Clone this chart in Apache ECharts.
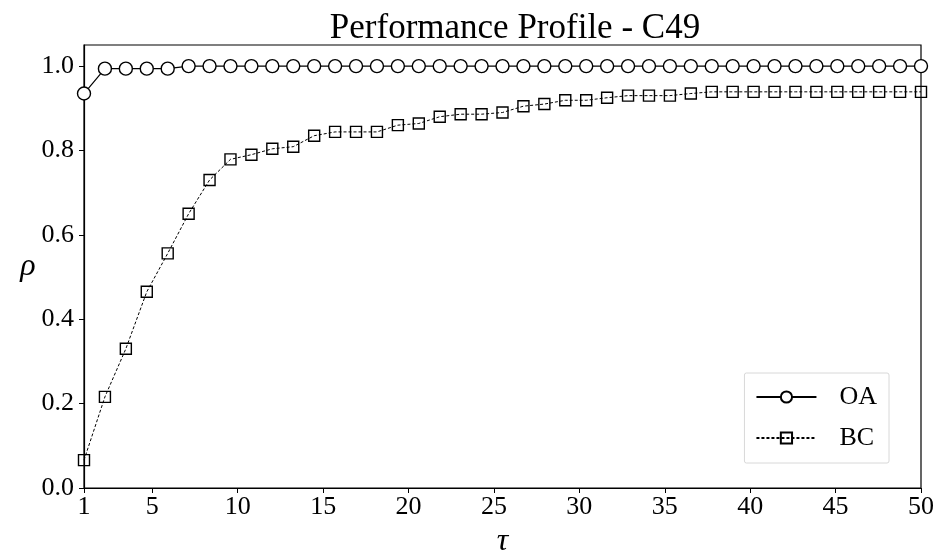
<!DOCTYPE html>
<html>
<head>
<meta charset="utf-8">
<script src="https://cdn.jsdelivr.net/npm/echarts@6/dist/echarts.min.js"></script>
<style>
  html, body { margin: 0; padding: 0; background: #fff; }
  #chart { width: 938px; height: 552px; }
</style>
</head>
<body>
<div id="chart"></div>
<script>
// Performance profile data: fraction of problems solved within factor tau
const tau = [1, 2.225, 3.45, 4.675, 5.9, 7.125, 8.35, 9.575, 10.8, 12.025,
  13.25, 14.475, 15.7, 16.925, 18.15, 19.375, 20.6, 21.825, 23.05, 24.275,
  25.5, 26.725, 27.95, 29.175, 30.4, 31.625, 32.85, 34.075, 35.3, 36.525,
  37.75, 38.975, 40.2, 41.425, 42.65, 43.875, 45.1, 46.325, 47.55, 48.775, 50];

const oa = [0.935, 0.994, 0.994, 0.994, 0.994, 1, 1, 1, 1, 1,
  1, 1, 1, 1, 1, 1, 1, 1, 1, 1,
  1, 1, 1, 1, 1, 1, 1, 1, 1, 1,
  1, 1, 1, 1, 1, 1, 1, 1, 1, 1, 1];

const bc = [0.066, 0.216, 0.330, 0.465, 0.556, 0.650, 0.730, 0.779, 0.790, 0.804,
  0.809, 0.835, 0.844, 0.844, 0.844, 0.860, 0.864, 0.880, 0.886, 0.886,
  0.890, 0.905, 0.910, 0.919, 0.919, 0.925, 0.930, 0.930, 0.930, 0.935,
  0.939, 0.939, 0.939, 0.939, 0.939, 0.939, 0.939, 0.939, 0.939, 0.939, 0.939];

const xTicks = [1, 5, 10, 15, 20, 25, 30, 35, 40, 45, 50];
const yTicks = [0, 0.2, 0.4, 0.6, 0.8, 1.0];

const FONT = '"Liberation Serif", "DejaVu Serif", serif';

const chart = echarts.init(document.getElementById('chart'), null, { renderer: 'canvas' });

const pair = arr => tau.map((t, i) => [t, arr[i]]);

chart.setOption({
  animation: false,
  backgroundColor: '#fff',
  title: {
    text: 'Performance Profile - C49',
    left: 510, top: 6, textAlign: 'center',
    textStyle: { fontFamily: FONT, fontWeight: 'normal', fontSize: 35, color: '#000' }
  },
  grid: {
    left: 84, right: 17, top: 45, bottom: 64,
    outerBoundsMode: 'none',
    containLabel: false,
    show: true, borderColor: '#000', borderWidth: 1.2, backgroundColor: 'transparent'
  },
  legend: {
    orient: 'vertical',
    right: 49, top: 373,
    padding: [11, 12, 12, 11],
    itemGap: 15,
    itemWidth: 60, itemHeight: 14,
    backgroundColor: '#fff',
    borderColor: '#d8d8d8', borderWidth: 1, borderRadius: 2,
    textStyle: { fontFamily: FONT, fontSize: 26, color: '#000', padding: [0, 0, 0, 18] },
    data: ['OA', 'BC']
  },
  xAxis: {
    type: 'value', min: 1, max: 50,
    name: 'τ', nameLocation: 'middle', nameGap: 38,
    nameTextStyle: { fontFamily: FONT, fontStyle: 'italic', fontSize: 32, color: '#000' },
    axisLine: { show: true, lineStyle: { color: '#000', width: 1.2 } },
    axisTick: { show: true, length: 5, lineStyle: { color: '#000' }, customValues: xTicks },
    axisLabel: { fontFamily: FONT, fontSize: 26, color: '#000', margin: 6, customValues: xTicks },
    splitLine: { show: false }
  },
  yAxis: {
    type: 'value', min: 0, max: 1.05,
    name: 'ρ', nameLocation: 'middle', nameGap: 44, nameRotate: 0,
    nameTextStyle: { fontFamily: FONT, fontStyle: 'italic', fontSize: 32, color: '#000' },
    axisLine: { show: true, lineStyle: { color: '#000', width: 1.2 } },
    axisTick: { show: true, length: 5, lineStyle: { color: '#000' }, customValues: yTicks },
    axisLabel: {
      fontFamily: FONT, fontSize: 26, color: '#000', margin: 10,
      customValues: yTicks,
      formatter: v => v.toFixed(1)
    },
    splitLine: { show: false }
  },
  series: [
    {
      name: 'OA', type: 'line', data: pair(oa),
      symbol: 'circle', symbolSize: 13, showAllSymbol: true,
      lineStyle: { color: '#000', width: 1.2, type: 'solid' },
      itemStyle: { color: '#fff', borderColor: '#000', borderWidth: 1.4 },
      z: 3
    },
    {
      name: 'BC', type: 'line', data: pair(bc),
      symbol: 'rect', symbolSize: 11, showAllSymbol: true,
      lineStyle: { color: '#000', width: 1, type: [3, 2] },
      itemStyle: { color: 'rgba(255,255,255,0)', borderColor: '#000', borderWidth: 1.4 },
      z: 2
    }
  ]
});
</script>
</body>
</html>
